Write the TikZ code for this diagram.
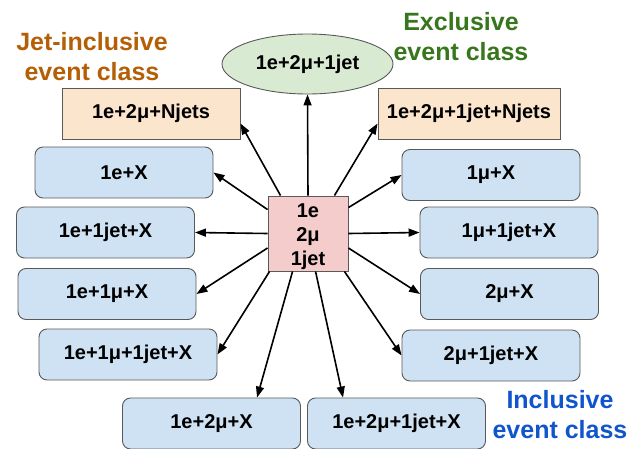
\documentclass[tikz,border=0pt]{standalone}
\usepackage{fontspec}
\setmainfont{Liberation Sans}
\usetikzlibrary{arrows.meta,calc,shapes.geometric}
\definecolor{bluefill}{HTML}{CFE2F3}
\definecolor{orangefill}{HTML}{FCE5CD}
\definecolor{greenfill}{HTML}{D9EAD3}
\definecolor{pinkfill}{HTML}{F4CCCC}
\definecolor{bordergray}{HTML}{595959}
\definecolor{jetcol}{HTML}{B45F06}
\definecolor{exclcol}{HTML}{38761D}
\definecolor{inclcol}{HTML}{1155CC}
\tikzset{
  boxtext/.style={font=\fontsize{20}{24}\selectfont\bfseries},
  incbox/.style={boxtext, draw=bordergray, line width=0.9pt, fill=bluefill, rounded corners=8pt,
    minimum width=178pt, minimum height=51pt, inner sep=0pt},
  jetbox/.style={boxtext, draw=bordergray, line width=0.9pt, fill=orangefill,
    minimum width=178pt, minimum height=51pt, inner sep=0pt},
  exclell/.style={boxtext, ellipse, draw=bordergray, line width=0.9pt, fill=greenfill,
    minimum width=171pt, minimum height=60pt, inner sep=0pt},
  centerbox/.style={draw=bordergray, line width=0.9pt, fill=pinkfill,
    minimum width=80pt, minimum height=75pt, inner sep=0pt},
  centertext/.style={boxtext, align=center, inner sep=0pt},
  classlabel/.style={font=\fontsize{25}{30}\selectfont\bfseries, align=center, inner sep=0pt},
  arr/.style={line width=1.6pt, -{Triangle[length=11pt,width=8pt]}}
}
\begin{document}
\begin{tikzpicture}[x=1pt,y=-1pt]
\useasboundingbox (0,0) rectangle (641,448);
\node[classlabel, text=jetcol] (ljet) at (92,57) {Jet-inclusive\\event class};
\node[classlabel, text=exclcol] (lexcl) at (461,37) {Exclusive\\event class};
\node[classlabel, text=inclcol] (lincl) at (560,414.5) {Inclusive\\event class};

\node[exclell] (ell) at (307.5,64) {1e+2μ+1jet};
\node[jetbox] (ol) at (151,113.5) {1e+2μ+Njets};
\node[jetbox, minimum width=182pt] (or) at (469,113.5) {1e+2μ+1jet+Njets};
\node[incbox] (b1) at (124,172.5) {1e+X};
\node[incbox] (b2) at (491,175) {1μ+X};
\node[incbox] (b3) at (105.5,232.5) {1e+1jet+X};
\node[incbox] (b4) at (509,232.5) {1μ+1jet+X};
\node[incbox] (b5) at (107,294) {1e+1μ+X};
\node[incbox] (b6) at (509.5,294) {2μ+X};
\node[incbox] (b7) at (128,354.5) {1e+1μ+1jet+X};
\node[incbox] (b8) at (491,355.5) {2μ+1jet+X};
\node[incbox] (b9) at (211.5,423.5) {1e+2μ+X};
\node[incbox] (b10) at (396.5,423.5) {1e+2μ+1jet+X};
\node[centerbox] (c) at (308,233.5) {};
\node[centertext] (ct) at (308,236.5) {1e\\2μ\\1jet};

\draw[arr] (c.north) -- (ell.south);
\draw[arr] ($(c.north west)+(13,0)$) -- ($(ol.south east)+(0,-16)$);
\draw[arr] ($(c.north east)+(-14,0)$) -- ($(or.south west)+(0,-16)$);
\draw[arr] ($(c.north west)+(0,14)$) -- (b1.east);
\draw[arr] ($(c.north east)+(0,12)$) -- (b2.west);
\draw[arr] (c.west) -- (b3.east);
\draw[arr] (c.east) -- (b4.west);
\draw[arr] ($(c.west)+(0,14.5)$) -- (b5.east);
\draw[arr] ($(c.east)+(0,14.5)$) -- (b6.west);
\draw[arr] ($(c.south west)+(2,0)$) -- (b7.east);
\draw[arr] ($(c.south west)+(25,0)$) -- ($(b9.north west)+(135,0)$);
\draw[arr] ($(c.south west)+(48,0)$) -- ($(b10.north west)+(36,0)$);
\draw[arr] ($(c.south east)+(-4,0)$) -- (b8.west);
\end{tikzpicture}
\end{document}
